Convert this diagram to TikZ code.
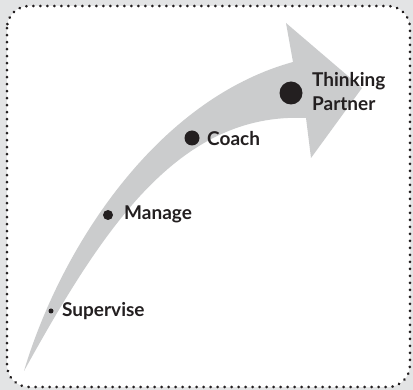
\documentclass[tikz,border=0pt]{standalone}
\usepackage{fontspec}
\setmainfont{Lato}
\begin{document}
\begin{tikzpicture}[x=1pt,y=-1pt,
  bg/.style={fill=pagegray},
  dotbox/.style={draw=inkdark,fill=white,line width=2.8pt,line cap=round,dash pattern=on 0.2pt off 6.8pt,rounded corners=22pt},
  bigarrow/.style={fill=arrowgray},
  stagedot/.style={circle,fill=inkdark,inner sep=0pt},
  stagelabel/.style={text=inkdark,inner sep=0pt,font=\bfseries\fontsize{19}{24}\selectfont}]
\definecolor{pagegray}{HTML}{E3E4E5}
\definecolor{arrowgray}{HTML}{CBCCCD}
\definecolor{inkdark}{HTML}{231F20}
\useasboundingbox (0,0) rectangle (413,390);
\fill[bg] (0,0) rectangle (413,390);
\draw[dotbox] (7,6) rectangle (410,387);
\fill[bigarrow] (24,371) .. controls (60,250) and (155,100) .. (293,62)
  -- (286,23) -- (362,88) -- (311,158) -- (306,118)
  .. controls (178,112) and (102,230) .. (24,371) -- cycle;
\node[stagedot,minimum size=5pt] (sup) at (51,311) {};
\node[stagedot,minimum size=10pt] (man) at (108,215) {};
\node[stagedot,minimum size=15pt] (coa) at (192,138) {};
\node[stagedot,minimum size=23pt] (thi) at (291,93) {};
\node[stagelabel,anchor=base west] (supl) at (62,317) {Supervise};
\node[stagelabel,anchor=base west] (manl) at (124,220) {Manage};
\node[stagelabel,anchor=base west] (coal) at (207,146) {Coach};
\node[stagelabel,anchor=north west,align=left] (thil) at (312,72) {Thinking\\Partner};
\end{tikzpicture}
\end{document}
